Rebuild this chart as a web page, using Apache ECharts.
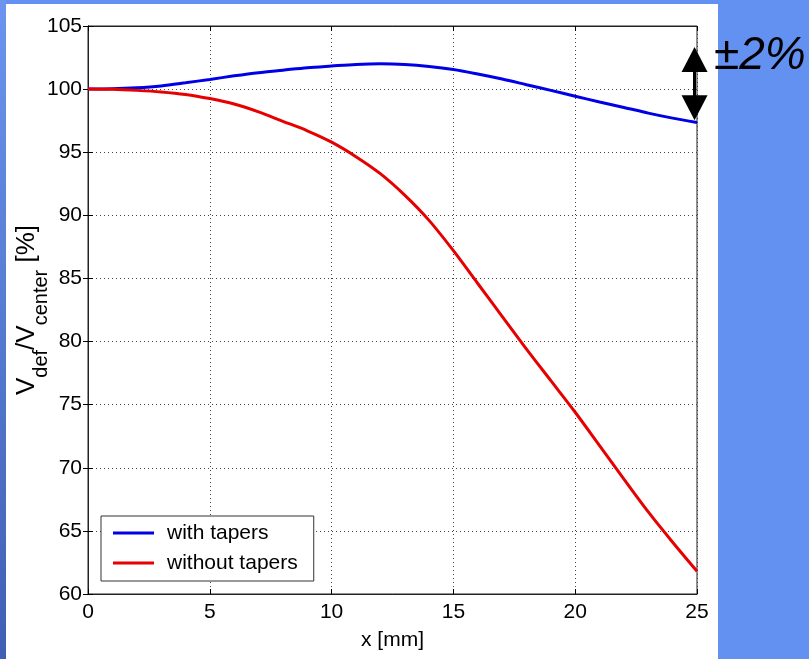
<!DOCTYPE html>
<html>
<head>
<meta charset="utf-8">
<script src="https://cdn.jsdelivr.net/npm/echarts@6/dist/echarts.min.js"></script>
<style>
  html, body { margin: 0; padding: 0; }
  body { width: 809px; height: 659px; background: #6391f1; position: relative; overflow: hidden; }
  #strip { position: absolute; left: 0; top: 0; width: 6px; height: 659px;
           background: linear-gradient(#6b95ef, #3f5fb3); }
  #panel { position: absolute; left: 6px; top: 4px; width: 712px; height: 655px; background: #fff; }
  #main { position: absolute; left: 0; top: 0; width: 809px; height: 659px; }
</style>
</head>
<body>
<div id="strip"></div>
<div id="panel"></div>
<div id="main"></div>
<script>
// x positions [mm]
var xs = [0, 1, 2, 3, 4, 5, 6, 7, 8, 9, 10, 11, 12, 13, 14, 15, 16, 17, 18, 19, 20, 21, 22, 23, 24, 25];
// V_def / V_center [%]
var withTapers = [100, 100.02, 100.1, 100.25, 100.5, 100.77, 101.05, 101.3, 101.5, 101.7, 101.83, 101.95, 102.0,
                  101.95, 101.8, 101.56, 101.2, 100.8, 100.35, 99.9, 99.44, 98.98, 98.55, 98.1, 97.7, 97.35];
var withoutTapers = [100, 99.98, 99.9, 99.78, 99.58, 99.25, 98.82, 98.2, 97.45, 96.7, 95.8, 94.65, 93.3,
                     91.6, 89.6, 87.2, 84.6, 82.0, 79.4, 76.9, 74.4, 71.75, 69.1, 66.5, 64.1, 61.8];
var names = ['with tapers', 'without tapers'];
// the +-2% marker, x and its two ends
var markX = 24.9;
var markEnds = [102.34, 98.53];

var FONT = '"Liberation Sans", Arial, sans-serif';

function pairs(a) {
    var out = [];
    for (var i = 0; i < xs.length; i++) out.push([xs[i], a[i]]);
    return out;
}

var tick = { show: true, inside: true, length: 5, lineStyle: { color: '#000' } };
var dots = { show: true, lineStyle: { color: '#444', type: [1, 3], width: 1 } };

var chart = echarts.init(document.getElementById('main'));
chart.setOption({
    animation: false,
    backgroundColor: 'transparent',
    grid: { left: 88, right: 112, top: 26, bottom: 65, outerBoundsMode: 'none',
            show: true, borderColor: '#222', borderWidth: 1, backgroundColor: '#fff' },
    xAxis: [{
        type: 'value', min: 0, max: 25, interval: 5,
        name: 'x [mm]', nameLocation: 'middle', nameGap: 36, nameMoveOverlap: false,
        nameTextStyle: { fontSize: 21, color: '#000', fontFamily: FONT },
        axisLine: { show: true, lineStyle: { color: '#222' } },
        axisTick: tick, splitLine: dots,
        axisLabel: { fontSize: 21, color: '#000', fontFamily: FONT, margin: 8 }
    }, {
        type: 'value', min: 0, max: 25, interval: 5, position: 'top',
        axisLine: { show: true, lineStyle: { color: '#222' } },
        axisTick: tick, splitLine: { show: false }, axisLabel: { show: false }
    }],
    yAxis: [{
        type: 'value', min: 60, max: 105, interval: 5,
        name: '{v|V}{s|def}{v|/V}{s|center}{v| [%]}',
        nameLocation: 'middle', nameRotate: 90, nameGap: 37, nameMoveOverlap: false,
        nameTextStyle: {
            color: '#000', fontFamily: FONT,
            rich: {
                v: { fontSize: 26, fontFamily: FONT, color: '#000' },
                s: { fontSize: 20, padding: [28, 0, 0, 0], fontFamily: FONT, color: '#000' }
            }
        },
        axisLine: { show: true, lineStyle: { color: '#222' } },
        axisTick: tick, splitLine: dots,
        axisLabel: { fontSize: 21, color: '#000', fontFamily: FONT, margin: 6 }
    }, {
        type: 'value', min: 60, max: 105, interval: 5, position: 'right',
        axisLine: { show: true, lineStyle: { color: '#222' } },
        axisTick: tick, splitLine: { show: false }, axisLabel: { show: false }
    }],
    legend: {
        left: 101, top: 516, orient: 'vertical',
        padding: [5, 16, 6, 12], itemGap: 6,
        itemWidth: 41, itemHeight: 3, icon: 'rect',
        borderColor: '#333', borderWidth: 1, backgroundColor: '#fff',
        textStyle: { fontSize: 21, lineHeight: 24, color: '#000', fontFamily: FONT, padding: [0, 0, 0, 8] },
        data: names
    },
    series: [{
        name: names[0], type: 'line', data: pairs(withTapers), smooth: 0.3,
        showSymbol: false, color: '#0000e6', lineStyle: { width: 3 },
        markLine: {
            silent: true, symbol: ['triangle', 'triangle'], symbolSize: [26, 25],
            label: { show: false },
            lineStyle: { color: '#000', width: 3, type: 'solid' },
            data: [[{ coord: [markX, markEnds[0]] }, { coord: [markX, markEnds[1]] }]]
        }
    }, {
        name: names[1], type: 'line', data: pairs(withoutTapers), smooth: 0.3,
        showSymbol: false, color: '#e60000', lineStyle: { width: 3 }
    }],
    graphic: [{
        type: 'text', left: 714, top: 33,
        style: { text: '±2%', font: 'italic 46px ' + FONT, fill: '#000' }
    }]
});
</script>
</body>
</html>
